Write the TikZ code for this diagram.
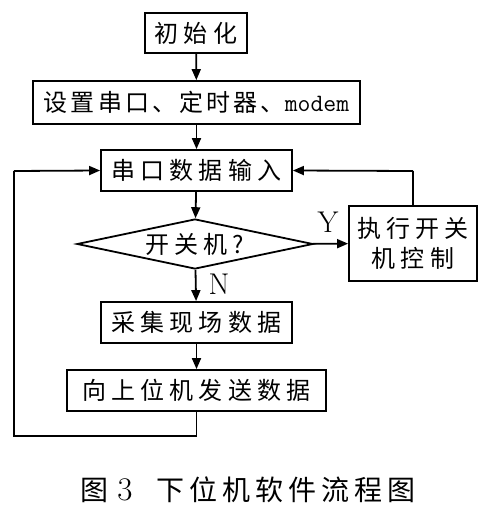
\documentclass[tikz,border=0pt]{standalone}
\usepackage{fontspec}
\usetikzlibrary{shapes.geometric,arrows.meta}
\newfontfamily\cjk[LetterSpace=21]{Noto Sans CJK SC}
\newfontfamily\cjknarrow[LetterSpace=13]{Noto Sans CJK SC}
\newfontfamily\cjkcap[LetterSpace=18]{Noto Sans CJK SC}
\begin{document}
\begin{tikzpicture}[x=1pt,y=-1pt,
  every node/.style={inner sep=0pt},
  box/.style={draw,line width=1.8pt,rectangle,font=\cjk\fontsize{24}{28}\selectfont,align=center},
  dec/.style={draw,line width=1.8pt,diamond,shape aspect=4.7,minimum width=236pt,minimum height=50pt,font=\cjk\fontsize{24}{28}\selectfont},
  conn/.style={line width=1.8pt,-{Triangle[length=11pt,width=9pt]}},
  plain/.style={line width=1.8pt},
  lab/.style={font=\fontsize{30}{32}\selectfont}]
\useasboundingbox (0,0) rectangle (490,513);
\node[box,minimum width=102pt,minimum height=40pt] (init) at (196,33) {初始化};
\node[box,minimum width=327pt,minimum height=43pt] (set) at (196.5,102.5) {\cjknarrow 设置串口、定时器、{\ttfamily\fontsize{25}{27}\selectfont modem}};
\node[box,minimum width=191pt,minimum height=41pt] (ser) at (196.5,170.5) {串口数据输入};
\node[dec] (q) at (195,244) {开关机?};
\node[box,minimum width=128pt,minimum height=75pt] (exe) at (413,243.5) {执行开关\\[2pt]机控制};
\node[box,minimum width=191pt,minimum height=41pt] (col) at (196.5,322.5) {采集现场数据};
\node[box,minimum width=259pt,minimum height=41pt] (snd) at (196.5,390.5) {向上位机发送数据};
\coordinate (bl) at (14,436);
\coordinate (tl) at (14,171);
\coordinate (tr) at (413,171);
\draw[conn] (init) -- (set);
\draw[conn] (set) -- (ser);
\draw[conn] (ser) -- (q);
\draw[conn] (q) -- (exe);
\draw[conn] (q) -- (col);
\node[lab] (y) at (328,222) {Y};
\node[lab] (n) at (219,284) {N};
\draw[conn] (col) -- (snd);
\draw[plain] (snd.south) |- (bl) -- (tl);
\draw[conn] (tl) -- (ser.west);
\draw[plain] (exe.north) -- (tr);
\draw[conn] (tr) -- (ser.east);
\node[font=\cjkcap\fontsize{28}{32}\selectfont] (cap) at (248,490) {图\hspace{9pt}{\rmfamily\fontsize{33}{34}\selectfont 3}\hspace{24pt}下位机软件流程图};
\end{tikzpicture}
\end{document}
